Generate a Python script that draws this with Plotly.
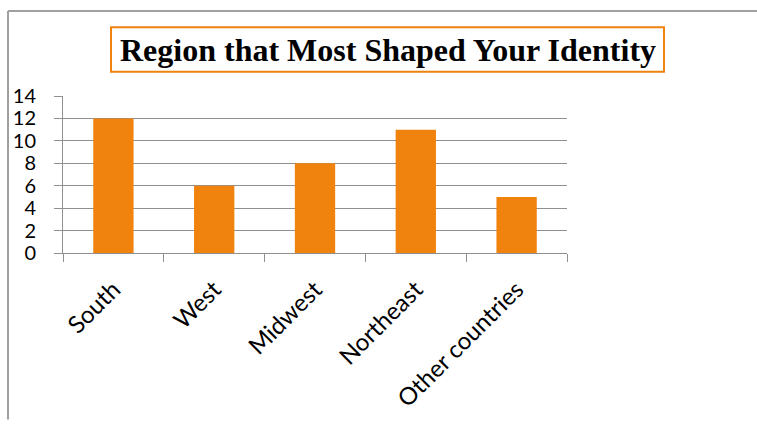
import plotly.graph_objects as go

regions = ["South", "West", "Midwest", "Northeast", "Other countries"]
counts = [12, 6, 8, 11, 5]
y_ticks = [0, 2, 4, 6, 8, 10, 12, 14]

W, H = 757, 424
L, R, T, B = 63, 567, 95.7, 255  # plot area in pixels
pw, ph = R - L, B - T

def px_x(x):
    return (x - L) / pw

def px_y(y):
    return (B - y) / ph

bar_color = "#F0820E"
grid_color = "#8F8F8F"
font_family = "Lato, Open Sans, sans-serif"

fig = go.Figure(
    go.Bar(x=regions, y=counts, marker=dict(color=bar_color, line=dict(width=0)))
)

fig.update_layout(
    width=W,
    height=H,
    autosize=False,
    margin=dict(l=L, r=W - R, t=T, b=H - B, pad=0),
    paper_bgcolor="white",
    plot_bgcolor="white",
    bargap=0.6,
    showlegend=False,
)

fig.update_yaxes(
    range=[0, 14],
    tickvals=y_ticks,
    ticktext=[str(v) for v in y_ticks],
    showgrid=True,
    gridcolor=grid_color,
    gridwidth=1,
    zeroline=False,
    showline=True,
    linecolor=grid_color,
    linewidth=1,
    ticks="outside",
    ticklen=8,
    tickcolor=grid_color,
    ticklabelstandoff=14,
    tickfont=dict(family=font_family, size=20, color="black"),
)

fig.update_xaxes(
    showgrid=False,
    showline=True,
    linecolor=grid_color,
    linewidth=1,
    ticks="outside",
    tickson="boundaries",
    ticklen=8,
    tickcolor=grid_color,
    tickangle=-45,
    ticklabelstandoff=12,
    tickfont=dict(family=font_family, size=24, color="black"),
)

# chart frame edges (top and left)
fig.add_shape(type="line", xref="paper", yref="paper",
              x0=px_x(8), x1=px_x(757), y0=px_y(9.5), y1=px_y(9.5),
              line=dict(color="#A0A0A0", width=2))
fig.add_shape(type="line", xref="paper", yref="paper",
              x0=px_x(8), x1=px_x(8), y0=px_y(9.5), y1=px_y(424),
              line=dict(color="#A0A0A0", width=2))

# boxed title
fig.add_shape(type="rect", xref="paper", yref="paper",
              x0=px_x(111), x1=px_x(664), y0=px_y(26), y1=px_y(71),
              line=dict(color="#F0820E", width=2), fillcolor="white")
fig.add_annotation(
    text="<b>Region that Most Shaped Your Identity</b>",
    xref="paper", yref="paper",
    x=px_x(387.5), y=px_y(49),
    xanchor="center", yanchor="middle",
    showarrow=False,
    font=dict(family="Liberation Serif, Times New Roman, serif", size=32, color="black"),
)

fig.write_html("out.html")
